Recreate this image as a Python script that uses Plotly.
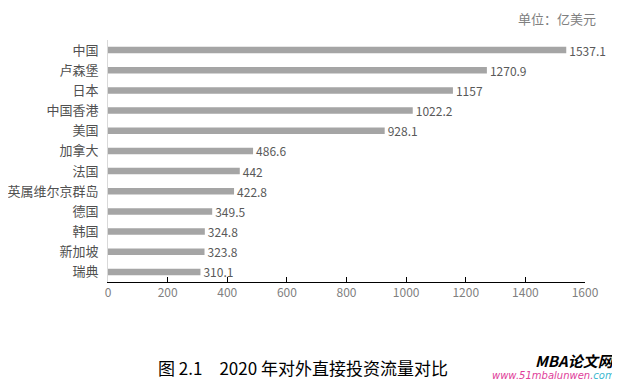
import plotly.graph_objects as go

countries = ["中国", "卢森堡", "日本", "中国香港", "美国", "加拿大", "法国",
             "英属维尔京群岛", "德国", "韩国", "新加坡", "瑞典"]
values = [1537.1, 1270.9, 1157, 1022.2, 928.1, 486.6, 442, 422.8, 349.5, 324.8, 323.8, 310.1]
value_text = ["1537.1", "1270.9", "1157", "1022.2", "928.1", "486.6", "442",
              "422.8", "349.5", "324.8", "323.8", "310.1"]
x_ticks = [0, 200, 400, 600, 800, 1000, 1200, 1400, 1600]

FONT = "Noto Sans CJK SC"

fig = go.Figure(go.Bar(
    x=values, y=countries, orientation="h",
    marker=dict(color="#a5a5a5", line=dict(width=0)),
    text=value_text, textposition="outside", cliponaxis=False,
    constraintext="none",
    textfont=dict(family=FONT, size=12, color="#595959"),
))

fig.update_layout(
    width=612, height=373,
    margin=dict(l=100, r=35, t=32, b=99, autoexpand=False),
    paper_bgcolor="white", plot_bgcolor="white",
    bargap=0.68, showlegend=False,
    font=dict(family=FONT),
    xaxis=dict(range=[0, 1600], tickvals=x_ticks, showgrid=False, zeroline=False,
               showline=True, linecolor="#000000", linewidth=1,
               ticks="inside", ticklen=5, tickcolor="#000000", automargin=False,
               tickfont=dict(family=FONT, size=12, color="#808080")),
    yaxis=dict(autorange="reversed", showgrid=False, showline=True,
               linecolor="#d9d9d9", linewidth=1, ticks="", ticklabelstandoff=6,
               automargin=False,
               tickfont=dict(family=FONT, size=13, color="#505050")),
    annotations=[
        dict(text="单位：亿美元", xref="paper", yref="paper", x=1.027, y=1.0,
             xanchor="right", yanchor="middle", yshift=22, showarrow=False,
             font=dict(family=FONT, size=13, color="#808080")),
        dict(text="图 2.1　2020 年对外直接投资流量对比", xref="paper", yref="paper",
             x=0.409, y=0, xanchor="center", yanchor="middle", yshift=-85,
             showarrow=False, font=dict(family=FONT, size=17, color="#000000")),
        dict(text="<b><i>MBA论文网</i></b>", xref="paper", yref="paper",
             x=1.067, y=0, xanchor="right", yanchor="middle", yshift=-78,
             showarrow=False, font=dict(family=FONT, size=15, color="#000000")),
        dict(text="<i>www.51mbalunwen.<span style='color:#3bb8d0'>com</span></i>",
             xref="paper", yref="paper",
             x=1.067, y=0, xanchor="right", yanchor="middle", yshift=-93,
             showarrow=False, font=dict(family="DejaVu Sans", size=10, color="#e0409a")),
    ],
)

fig.write_html("out.html")
